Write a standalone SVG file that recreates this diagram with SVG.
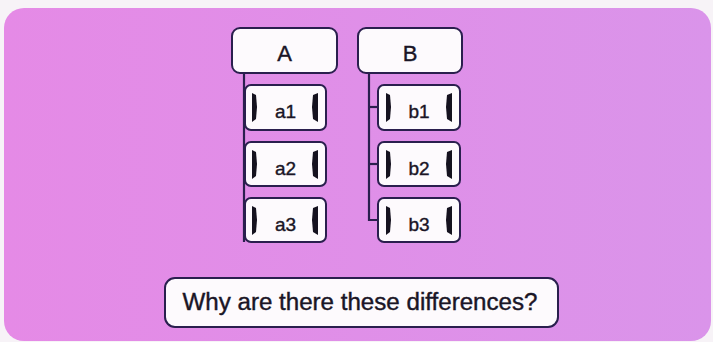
<svg xmlns="http://www.w3.org/2000/svg" width="713" height="342" viewBox="0 0 713 342">
<defs>
<style>
.box{fill:#fdfafd;stroke:#2a1f4e;stroke-width:2}
.conn{stroke:#2a1f4e;stroke-width:2.2;fill:none}
.bar{fill:#15121f}
.t{font-family:"Liberation Sans",Arial,sans-serif;fill:#1a1526;stroke:#1a1526;stroke-width:0.4;text-anchor:middle}
</style>
<linearGradient id="bgg" x1="0" y1="0" x2="1" y2="0">
<stop offset="0" stop-color="#e58ae6"/>
<stop offset="1" stop-color="#da94ea"/>
</linearGradient>
<g id="brk">
<polygon class="bar" points="0,0 4,2 5,14 4,26 0,29"/>
<polygon class="bar" points="61,2 66,0 66,29 61,26 60,14"/>
</g>
</defs>
<rect x="0" y="0" width="713" height="342" fill="#f7f3f7"/>
<rect x="4" y="8" width="707" height="333" rx="20" fill="url(#bgg)"/>
<g id="connectors">
<line class="conn" x1="244" y1="73" x2="244" y2="242"/>
<polyline class="conn" points="369,73 369,220 378,220"/>
<line class="conn" x1="369" y1="107" x2="378" y2="107"/>
<line class="conn" x1="369" y1="164" x2="378" y2="164"/>
</g>
<g id="A"><rect class="box" x="232" y="28" width="105" height="45" rx="8"/><text class="t" font-size="22" x="284.5" y="61">A</text></g>
<g id="B"><rect class="box" x="358" y="28" width="104" height="45" rx="8"/><text class="t" font-size="22" x="410" y="61">B</text></g>
<g id="a1"><rect class="box" x="245" y="85" width="81" height="45" rx="6"/><use href="#brk" x="252" y="93"/><text class="t" font-size="19" x="285.5" y="118">a1</text></g>
<g id="a2"><rect class="box" x="245" y="142" width="81" height="44" rx="6"/><use href="#brk" x="252" y="150"/><text class="t" font-size="19" x="285.5" y="175">a2</text></g>
<g id="a3"><rect class="box" x="245" y="198" width="81" height="44" rx="6"/><use href="#brk" x="252" y="206"/><text class="t" font-size="19" x="285.5" y="231">a3</text></g>
<g id="b1"><rect class="box" x="378" y="85" width="82" height="45" rx="6"/><use href="#brk" x="386" y="93"/><text class="t" font-size="19" x="419" y="118">b1</text></g>
<g id="b2"><rect class="box" x="378" y="142" width="82" height="44" rx="6"/><use href="#brk" x="386" y="150"/><text class="t" font-size="19" x="419" y="175">b2</text></g>
<g id="b3"><rect class="box" x="378" y="198" width="82" height="44" rx="6"/><use href="#brk" x="386" y="206"/><text class="t" font-size="19" x="419" y="231">b3</text></g>
<g id="question"><rect class="box" x="165" y="278" width="393" height="49" rx="10"/><text class="t" x="360" y="310" font-size="23" textLength="355" lengthAdjust="spacingAndGlyphs">Why are there these differences?</text></g>
</svg>
